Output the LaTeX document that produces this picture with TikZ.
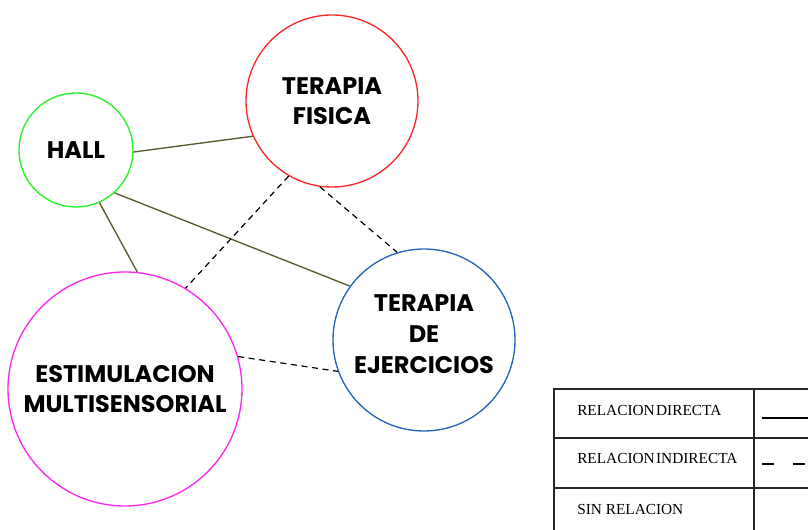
\documentclass[tikz,border=0pt]{standalone}
\usepackage{fontspec}
\newfontfamily\bubblefont{Poppins}
\newfontfamily\keyfont{Liberation Serif}
\definecolor{linkolive}{RGB}{88,90,48}
\definecolor{hallgreen}{RGB}{40,240,40}
\definecolor{fisred}{RGB}{250,40,40}
\definecolor{estpink}{RGB}{250,40,240}
\definecolor{ejeblue}{RGB}{40,100,190}
\begin{document}
\begin{tikzpicture}[x=0.75pt,y=-0.75pt,
  bubble/.style={circle,draw,line width=1pt,inner sep=0pt,align=center,text=black,
    font=\bubblefont\bfseries\fontsize{18}{23}\selectfont},
  link/.style={draw=linkolive,line width=1pt},
  hint/.style={draw=black,line width=0.9pt,dash pattern=on 4.5pt off 3.5pt},
  grid/.style={draw=black!85,line width=1.2pt},
  key/.style={anchor=west,inner sep=0pt,font=\keyfont\fontsize{11.5}{12}\selectfont},
]
\useasboundingbox (0,0) rectangle (808,530);
\node[bubble,draw=hallgreen,minimum size=85.5pt] (hall) at (76,150) {HALL};
\node[bubble,draw=fisred,minimum size=129pt] (fisica) at (332,101) {TERAPIA\\FISICA};
\node[bubble,draw=estpink,minimum size=175.5pt] (estim) at (125,389) {ESTIMULACION\\MULTISENSORIAL};
\node[bubble,draw=ejeblue,minimum size=136.5pt,text depth=9pt] (ejer) at (424,340) {TERAPIA\\DE\\EJERCICIOS};
\draw[link] (hall.-2) -- (fisica.204);
\draw[link] (hall.-48) -- (ejer.144);
\draw[link] (hall.-66) -- (estim.84);
\draw[hint] (fisica.240) -- (estim.59);
\draw[hint] (fisica.262) -- (ejer.107);
\draw[hint] (estim.16) -- (ejer.200);
\draw[grid] (554,530) |- (808,389);
\draw[grid] (754,389) -- (754,530);
\draw[grid] (554,438) -- (808,438);
\draw[grid] (554,488) -- (808,488);
\node[key] (direct) at (577,411) {RELACION\hspace{1pt}DIRECTA};
\node[key] (indirect) at (577,459) {RELACION\hspace{1pt}INDIRECTA};
\node[key] (none) at (577,510) {SIN RELACION};
\coordinate (solidA) at (762,418);
\coordinate (solidB) at (808,418);
\coordinate (dashA) at (762,464);
\coordinate (dashB) at (808,464);
\draw[line width=1pt] (solidA) -- (solidB);
\draw[line width=1pt,dash pattern=on 9pt off 14pt] (dashA) -- (dashB);
\end{tikzpicture}
\end{document}
